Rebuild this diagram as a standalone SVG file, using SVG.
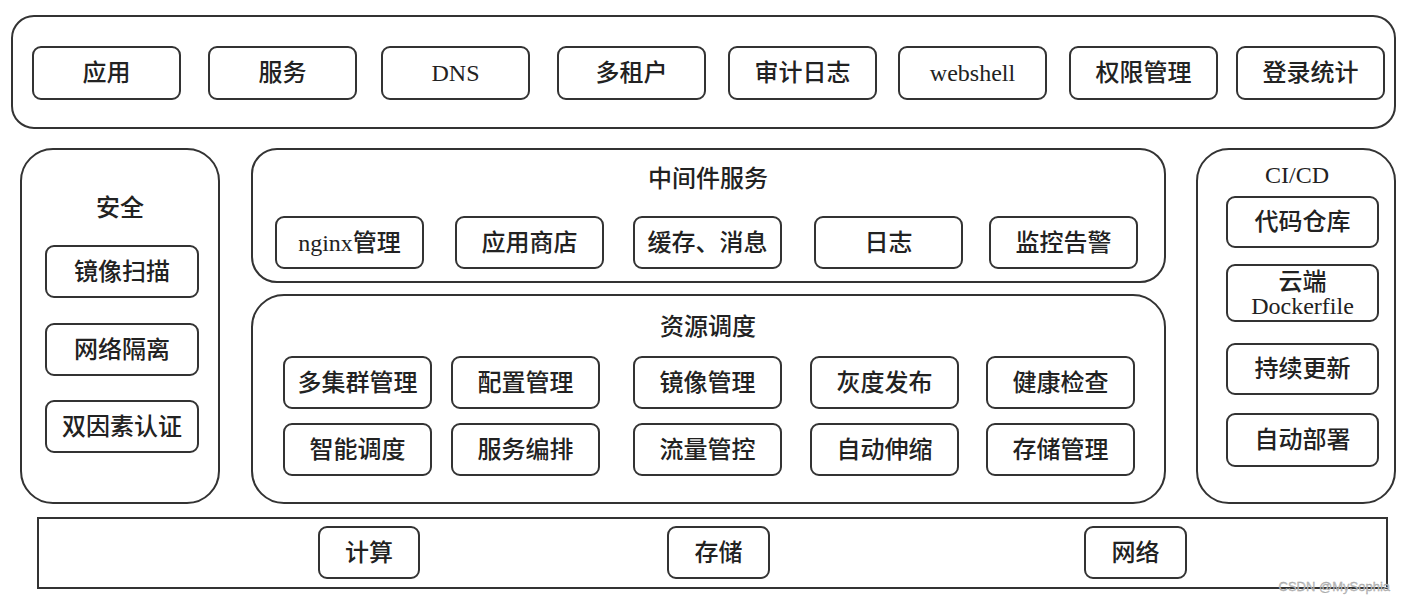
<svg xmlns="http://www.w3.org/2000/svg" width="1406" height="603" viewBox="0 0 1406 603">
<style>
.c{fill:#fff;stroke:#333;stroke-width:2}
.b{fill:#fff;stroke:#333;stroke-width:2}
.t{font-family:"Liberation Serif","Noto Sans CJK SC",serif;font-size:24px;font-weight:500;fill:#222;text-anchor:middle;dominant-baseline:central}
.w{font-family:"Liberation Sans",sans-serif;font-size:13px;fill:#c4c4c4;stroke:#999;stroke-width:0.3;text-anchor:end}
</style>
<rect width="1406" height="603" fill="#fff"/>
<g id="top">
<rect class="c" x="12" y="16" width="1383" height="112" rx="22"/>
<g id="n-app"><rect class="b" x="33" y="47" width="147" height="52" rx="8"/><text class="t" x="106.5" y="73">应用</text></g>
<g id="n-svc"><rect class="b" x="209" y="47" width="147" height="52" rx="8"/><text class="t" x="282.5" y="73">服务</text></g>
<g id="n-dns"><rect class="b" x="382" y="47" width="147" height="52" rx="8"/><text class="t" x="455.5" y="73">DNS</text></g>
<g id="n-tenant"><rect class="b" x="558" y="47" width="147" height="52" rx="8"/><text class="t" x="631.5" y="73">多租户</text></g>
<g id="n-audit"><rect class="b" x="729" y="47" width="147" height="52" rx="8"/><text class="t" x="802.5" y="73">审计日志</text></g>
<g id="n-webshell"><rect class="b" x="899" y="47" width="147" height="52" rx="8"/><text class="t" x="972.5" y="73">webshell</text></g>
<g id="n-perm"><rect class="b" x="1070" y="47" width="147" height="52" rx="8"/><text class="t" x="1143.5" y="73">权限管理</text></g>
<g id="n-login"><rect class="b" x="1237" y="47" width="147" height="52" rx="8"/><text class="t" x="1310.5" y="73">登录统计</text></g>
</g>
<g id="security">
<rect class="c" x="21" y="149" width="198" height="354" rx="32"/>
<text class="t" x="120" y="208">安全</text>
<g id="n-scan"><rect class="b" x="46" y="246" width="152" height="51" rx="8"/><text class="t" x="122" y="271.5">镜像扫描</text></g>
<g id="n-iso"><rect class="b" x="46" y="324" width="152" height="51" rx="8"/><text class="t" x="122" y="349.5">网络隔离</text></g>
<g id="n-2fa"><rect class="b" x="46" y="401" width="152" height="51" rx="8"/><text class="t" x="122" y="426.5">双因素认证</text></g>
</g>
<g id="middleware">
<rect class="c" x="252" y="149" width="913" height="133" rx="25"/>
<text class="t" x="708" y="179">中间件服务</text>
<g id="n-nginx"><rect class="b" x="276" y="217" width="147" height="51" rx="8"/><text class="t" x="349.5" y="242.5">nginx管理</text></g>
<g id="n-store"><rect class="b" x="456" y="217" width="147" height="51" rx="8"/><text class="t" x="529.5" y="242.5">应用商店</text></g>
<g id="n-cache"><rect class="b" x="634" y="217" width="147" height="51" rx="8"/><text class="t" x="707.5" y="242.5">缓存、消息</text></g>
<g id="n-log"><rect class="b" x="815" y="217" width="147" height="51" rx="8"/><text class="t" x="888.5" y="242.5">日志</text></g>
<g id="n-mon"><rect class="b" x="990" y="217" width="147" height="51" rx="8"/><text class="t" x="1063.5" y="242.5">监控告警</text></g>
</g>
<g id="resource">
<rect class="c" x="252" y="295" width="913" height="208" rx="32"/>
<text class="t" x="708" y="327">资源调度</text>
<g id="n-mc"><rect class="b" x="284" y="357" width="147" height="51" rx="8"/><text class="t" x="357.5" y="382.5">多集群管理</text></g>
<g id="n-cfg"><rect class="b" x="452" y="357" width="147" height="51" rx="8"/><text class="t" x="525.5" y="382.5">配置管理</text></g>
<g id="n-img"><rect class="b" x="634" y="357" width="147" height="51" rx="8"/><text class="t" x="707.5" y="382.5">镜像管理</text></g>
<g id="n-gray"><rect class="b" x="811" y="357" width="147" height="51" rx="8"/><text class="t" x="884.5" y="382.5">灰度发布</text></g>
<g id="n-health"><rect class="b" x="987" y="357" width="147" height="51" rx="8"/><text class="t" x="1060.5" y="382.5">健康检查</text></g>
<g id="n-sched"><rect class="b" x="284" y="424" width="147" height="51" rx="8"/><text class="t" x="357.5" y="449.5">智能调度</text></g>
<g id="n-orch"><rect class="b" x="452" y="424" width="147" height="51" rx="8"/><text class="t" x="525.5" y="449.5">服务编排</text></g>
<g id="n-flow"><rect class="b" x="634" y="424" width="147" height="51" rx="8"/><text class="t" x="707.5" y="449.5">流量管控</text></g>
<g id="n-scale"><rect class="b" x="811" y="424" width="147" height="51" rx="8"/><text class="t" x="884.5" y="449.5">自动伸缩</text></g>
<g id="n-stor"><rect class="b" x="987" y="424" width="147" height="51" rx="8"/><text class="t" x="1060.5" y="449.5">存储管理</text></g>
</g>
<g id="cicd">
<rect class="c" x="1197" y="149" width="198" height="354" rx="32"/>
<text class="t" x="1297" y="175">CI/CD</text>
<g id="n-repo"><rect class="b" x="1227" y="197" width="151" height="50" rx="8"/><text class="t" x="1302.5" y="222">代码仓库</text></g>
<g id="n-docker"><rect class="b" x="1227" y="265" width="151" height="56" rx="8"/><text class="t" x="1302.5" y="282">云端</text><text class="t" x="1302.5" y="306">Dockerfile</text></g>
<g id="n-cont"><rect class="b" x="1227" y="344" width="151" height="50" rx="8"/><text class="t" x="1302.5" y="369">持续更新</text></g>
<g id="n-deploy"><rect class="b" x="1227" y="414" width="151" height="52" rx="8"/><text class="t" x="1302.5" y="440">自动部署</text></g>
</g>
<g id="infra">
<rect class="c" x="38" y="518" width="1349" height="70"/>
<g id="n-compute"><rect class="b" x="319" y="527" width="100" height="51" rx="8"/><text class="t" x="369" y="552.5">计算</text></g>
<g id="n-storage"><rect class="b" x="668" y="527" width="101" height="51" rx="8"/><text class="t" x="718.5" y="552.5">存储</text></g>
<g id="n-net"><rect class="b" x="1085" y="527" width="101" height="51" rx="8"/><text class="t" x="1135.5" y="552.5">网络</text></g>
</g>
<g id="connectors"></g>
<text class="w" x="1390" y="591">CSDN @MySophia</text>
</svg>
